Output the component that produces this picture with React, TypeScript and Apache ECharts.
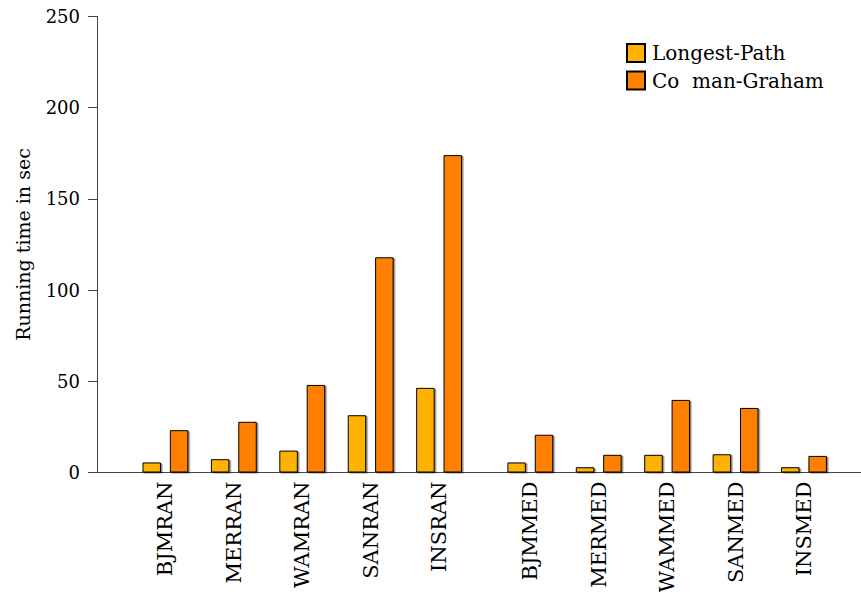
import React, { useEffect, useRef } from "react";
import * as echarts from "echarts";

const categories = [
  "BJMRAN", "MERRAN", "WAMRAN", "SANRAN", "INSRAN",
  "BJMMED", "MERMED", "WAMMED", "SANMED", "INSMED",
];
const longestPath = [5.5, 7.3, 12, 31.4, 46.4, 5.5, 2.9, 9.7, 10, 2.9];
const coffmanGraham = [23.2, 27.8, 48, 118, 174, 20.7, 9.7, 39.8, 35.4, 9.1];
const seriesNames = ["Longest-Path", "Co  man-Graham"];
const yTicks = [0, 50, 100, 150, 200, 250];

const FONT = "DejaVu Serif";

export default function App() {
  const ref = useRef<HTMLDivElement>(null);

  useEffect(() => {
    if (!ref.current) return;
    const chart = echarts.init(ref.current, null, { renderer: "svg" });

    // slot positions on a value axis: 3 slots per category, one extra slot between the two groups
    const pos = (i: number) => 3 + 3 * i + (i >= 5 ? 1 : 0);
    const positions = categories.map((_, i) => pos(i));
    const labelOf: Record<number, string> = {};
    positions.forEach((p, i) => (labelOf[p] = categories[i]));

    const barStyle = (color: string) => ({
      color,
      borderColor: "#000",
      borderWidth: 1,
      shadowColor: "rgba(0,0,0,0.45)",
      shadowOffsetX: 1.5,
      shadowOffsetY: 1,
      shadowBlur: 0.5,
    });

    chart.setOption({
      animation: false,
      textStyle: { fontFamily: FONT, color: "#000" },
      grid: {
        left: 97,
        right: 0,
        top: 16.5,
        bottom: 119.5,
        containLabel: false,
        outerBoundsMode: "none",
      },
      legend: {
        orient: "vertical",
        left: 621,
        top: 37,
        itemWidth: 18,
        itemHeight: 18,
        itemGap: 5.5,
        icon: "rect",
        textStyle: { fontFamily: FONT, fontSize: 20, color: "#000", lineHeight: 22, padding: [0, 0, 0, 2] },
        itemStyle: { shadowBlur: 0, shadowColor: "transparent", shadowOffsetX: 0, shadowOffsetY: 0 },
        data: seriesNames,
      },
      xAxis: [
        {
          type: "value",
          min: 0,
          max: 33.5,
          interval: 1,
          position: "bottom",
          axisLine: { show: true, onZero: false, lineStyle: { color: "#444", width: 1 } },
          axisTick: { show: false },
          splitLine: { show: false },
          axisLabel: {
            customValues: positions,
            rotate: 90,
            margin: 9,
            fontFamily: FONT,
            fontSize: 21,
            color: "#000",
            formatter: (v: number) => labelOf[v] ?? "",
          },
        },
        {
          type: "value",
          min: 0,
          max: 33.5,
          position: "top",
          axisLine: { show: true, lineStyle: { color: "#444", width: 1 } },
          axisTick: { show: false },
          axisLabel: { show: false },
          splitLine: { show: false },
        },
      ],
      yAxis: {
        type: "value",
        min: 0,
        max: 250,
        interval: 50,
        name: "Running time in sec",
        nameLocation: "middle",
        nameRotate: 90,
        nameGap: 65,
        nameTextStyle: { fontFamily: FONT, fontSize: 19, color: "#000" },
        axisLine: { show: true, lineStyle: { color: "#444", width: 1 } },
        axisTick: { show: true, inside: false, length: 9, lineStyle: { color: "#444" } },
        splitLine: { show: false },
        axisLabel: {
          margin: 17,
          fontFamily: FONT,
          fontSize: 18,
          color: "#000",
          customValues: yTicks,
        },
      },
      series: [
        {
          name: seriesNames[0],
          type: "bar",
          xAxisIndex: 0,
          barWidth: 18.5,
          barGap: "48%",
          itemStyle: barStyle("#FFB300"),
          data: longestPath.map((v, i) => [positions[i], v]),
        },
        {
          name: seriesNames[1],
          type: "bar",
          xAxisIndex: 0,
          barWidth: 18.5,
          barGap: "48%",
          itemStyle: barStyle("#FF8000"),
          data: coffmanGraham.map((v, i) => [positions[i], v]),
        },
      ],
    });

    return () => chart.dispose();
  }, []);

  return (
    <div
      ref={ref}
      style={{ position: "absolute", left: 0, top: 0, width: 861, height: 592, background: "#fff" }}
    />
  );
}
